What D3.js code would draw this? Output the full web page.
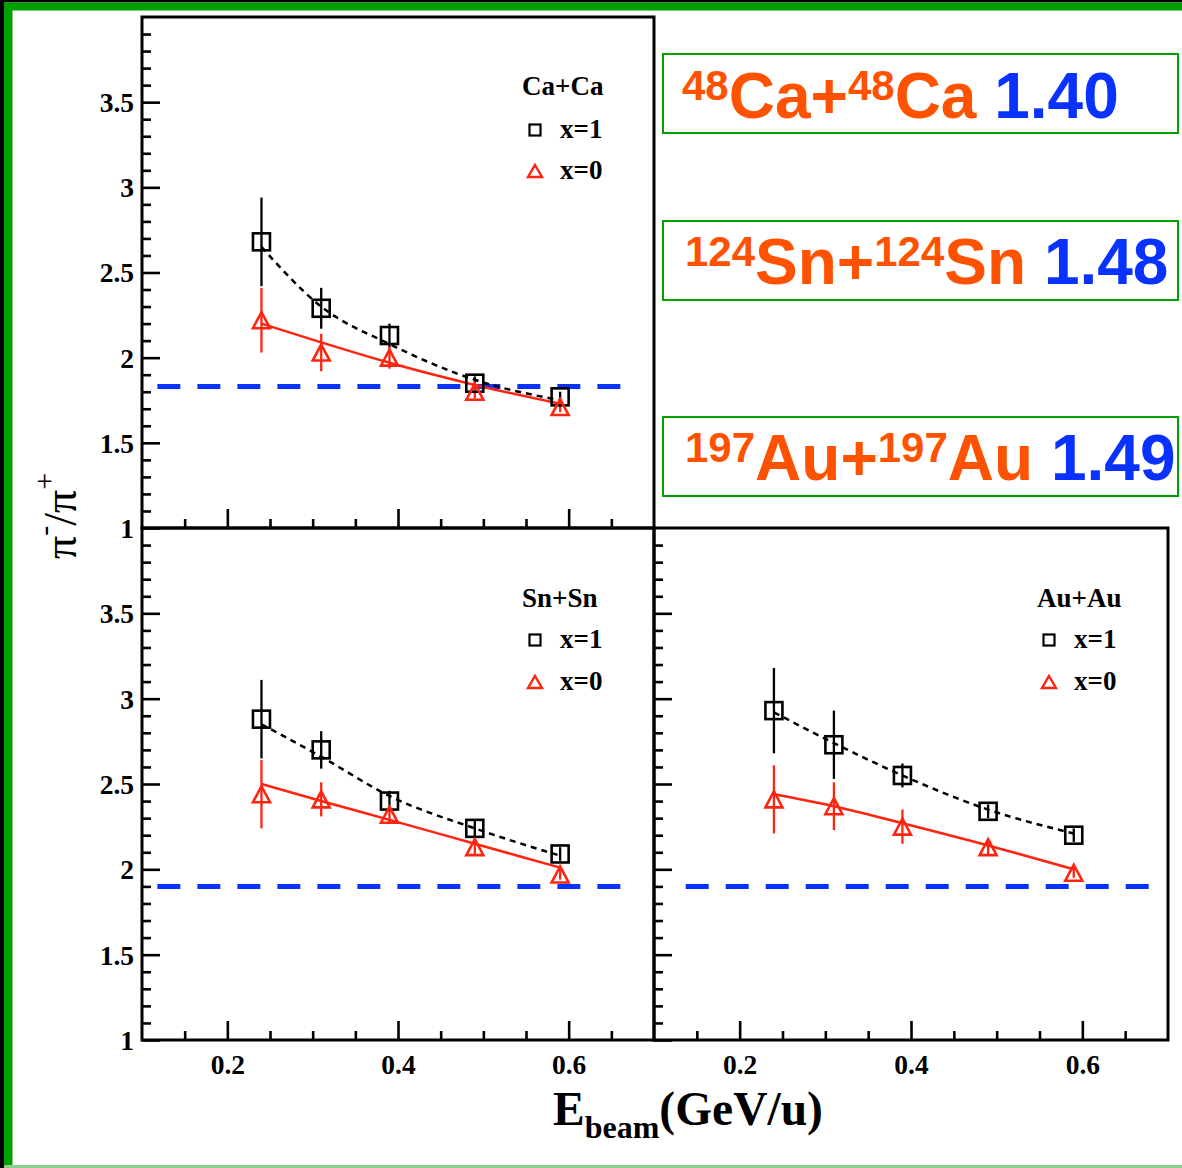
<!DOCTYPE html>
<html><head><meta charset="utf-8">
<script src="https://cdn.jsdelivr.net/npm/d3@7"></script>
<style>
html,body{margin:0;padding:0;background:#fff;}
svg{display:block;}
</style></head>
<body>
<svg id="chart" width="1182" height="1168"></svg>
<script>
// ---------- data ----------
const energies = [0.24, 0.31, 0.39, 0.49, 0.59];
const xTickValues = [0.2, 0.4, 0.6];
const xTickLabels = ["0.2", "0.4", "0.6"];
const yTickValues = [1, 1.5, 2, 2.5, 3, 3.5];
const yTickLabels = ["1", "1.5", "2", "2.5", "3", "3.5"];

const caX1 = [2.68, 2.29, 2.13, 1.85, 1.77];
const caX1Err = [0.26, 0.12, 0.07, 0.04, 0.03];
const caX0 = [2.22, 2.03, 2.00, 1.80, 1.71];
const caX0Err = [0.19, 0.11, 0.065, 0.04, 0.03];
const caFitX1 = [2.65, 2.30, 2.08, 1.87, 1.75];
const caFitX0 = [2.20, 2.09, 1.97, 1.84, 1.73];
const caRef = 1.83;

const snX1 = [2.88, 2.70, 2.40, 2.24, 2.09];
const snX1Err = [0.23, 0.11, 0.06, 0.05, 0.04];
const snX0 = [2.44, 2.41, 2.32, 2.13, 1.97];
const snX0Err = [0.20, 0.10, 0.05, 0.04, 0.03];
const snFitX1 = [2.85, 2.66, 2.43, 2.24, 2.08];
const snFitX0 = [2.50, 2.40, 2.29, 2.15, 2.01];
const snRef = 1.90;

const auX1 = [2.93, 2.73, 2.55, 2.34, 2.20];
const auX1Err = [0.25, 0.20, 0.07, 0.04, 0.04];
const auX0 = [2.41, 2.37, 2.25, 2.13, 1.98];
const auX0Err = [0.20, 0.14, 0.10, 0.04, 0.03];
const auFitX1 = [2.92, 2.74, 2.55, 2.35, 2.21];
const auFitX0 = [2.44, 2.37, 2.27, 2.14, 2.00];
const auRef = 1.90;

const systemNames = ["Ca+Ca", "Sn+Sn", "Au+Au"];
const legendLabels = ["x=1", "x=0"];
const boxMass = ["48", "124", "197"];
const boxElement = ["Ca", "Sn", "Au"];
const boxValues = ["1.40", "1.48", "1.49"];

// ---------- layout ----------
const svg = d3.select("#chart");
const RED = "#ff2410", BLUE = "#0a32ff", GREEN = "#00a000", ORANGE = "#ff5200";
const SERIF = "'Liberation Serif','Times New Roman',serif";
const SANS = "'Liberation Sans',Arial,sans-serif";
const TICKFS = 27.5, LEGFS = 27;

// outer frame
svg.append("rect").attr("x",0).attr("y",0).attr("width",1182).attr("height",1168).attr("fill","#fff");
svg.append("rect").attr("x",0).attr("y",0).attr("width",4).attr("height",1168).attr("fill","#000");
svg.append("rect").attr("x",0).attr("y",0).attr("width",1182).attr("height",2.5).attr("fill","#000");
svg.append("rect").attr("x",4).attr("y",2.5).attr("width",8.5).attr("height",1165.5).attr("fill",GREEN);
svg.append("rect").attr("x",4).attr("y",2.5).attr("width",1178).attr("height",8).attr("fill",GREEN);
svg.append("rect").attr("x",4).attr("y",1165).attr("width",1178).attr("height",3).attr("fill","#8fd08f");

const panels = [
  {x0:142, x1:654, y0:17,  y1:528,  xLabels:false, yLabels:true,  name:systemNames[0],
   s1:caX1, e1:caX1Err, s0:caX0, e0:caX0Err, f1:caFitX1, f0:caFitX0, ref:caRef, refRange:[0.118,0.67],
   leg:{tx:522, ty:95, mx:535, my1:130, my0:171}},
  {x0:142, x1:654, y0:528, y1:1040, xLabels:true, yLabels:true,  name:systemNames[1],
   s1:snX1, e1:snX1Err, s0:snX0, e0:snX0Err, f1:snFitX1, f0:snFitX0, ref:snRef, refRange:[0.118,0.67],
   leg:{tx:522, ty:607, mx:535, my1:640, my0:682}},
  {x0:654, x1:1168, y0:528, y1:1040, xLabels:true, yLabels:false, name:systemNames[2],
   s1:auX1, e1:auX1Err, s0:auX0, e0:auX0Err, f1:auFitX1, f0:auFitX0, ref:auRef, refRange:[0.137,0.685],
   leg:{tx:1037, ty:607, mx:1049, my1:640, my0:682}}
];

function triPath(w, h){
  return `M0,${-h/2}L${w/2},${h/2}L${-w/2},${h/2}Z`;
}

panels.forEach(p => {
  const x = d3.scaleLinear().domain([0.1, 0.7]).range([p.x0, p.x1]);
  const y = d3.scaleLinear().domain([1, 4]).range([p.y1, p.y0]);
  const g = svg.append("g");

  // y axis minor ticks
  const yMinor = d3.range(11, 40).map(v => v/10).filter(v => Math.abs(v*2 - Math.round(v*2)) > 1e-6);
  g.append("g").attr("transform", `translate(${p.x0},0)`)
    .call(d3.axisLeft(y).tickValues(yMinor).tickSize(-9).tickFormat(""))
    .call(s => { s.select(".domain").remove(); s.selectAll("line").attr("stroke","#000").attr("stroke-width",2.6); });
  // y axis major
  g.append("g").attr("transform", `translate(${p.x0},0)`)
    .call(d3.axisLeft(y).tickValues(yTickValues).tickSize(-18).tickPadding(8)
      .tickFormat((d,i) => p.yLabels ? yTickLabels[i] : ""))
    .call(s => {
      s.select(".domain").remove();
      s.selectAll("line").attr("stroke","#000").attr("stroke-width",2.6);
      s.selectAll("text").attr("font-family",SERIF).attr("font-weight","bold").attr("font-size",TICKFS).attr("fill","#000").attr("dy","0.34em");
    });
  // x axis minor
  const xMinor = d3.range(3, 14).map(v => v*0.05).filter(v => Math.abs(v*5 - Math.round(v*5)) > 1e-6);
  g.append("g").attr("transform", `translate(0,${p.y1})`)
    .call(d3.axisBottom(x).tickValues(xMinor).tickSize(-9).tickFormat(""))
    .call(s => { s.select(".domain").remove(); s.selectAll("line").attr("stroke","#000").attr("stroke-width",2.6); });
  g.append("g").attr("transform", `translate(0,${p.y1})`)
    .call(d3.axisBottom(x).tickValues(xTickValues).tickSize(-19).tickPadding(14)
      .tickFormat((d,i) => p.xLabels ? xTickLabels[i] : ""))
    .call(s => {
      s.select(".domain").remove();
      s.selectAll("line").attr("stroke","#000").attr("stroke-width",2.6);
      s.selectAll("text").attr("font-family",SERIF).attr("font-weight","bold").attr("font-size",TICKFS).attr("fill","#000");
    });

  // frame
  g.append("rect").attr("x",p.x0).attr("y",p.y0).attr("width",p.x1-p.x0).attr("height",p.y1-p.y0)
    .attr("fill","none").attr("stroke","#000").attr("stroke-width",3);

  // reference blue dashed line
  g.append("line").attr("x1",x(p.refRange[0])).attr("x2",x(p.refRange[1]))
    .attr("y1",y(p.ref)).attr("y2",y(p.ref))
    .attr("stroke",BLUE).attr("stroke-width",5).attr("stroke-dasharray","23,17");

  // fit lines
  const line = d3.line().x((d,i)=>x(energies[i])).y(d=>y(d)).curve(d3.curveMonotoneX);
  g.append("path").attr("d", line(p.f1)).attr("fill","none").attr("stroke","#000")
    .attr("stroke-width",2.5).attr("stroke-dasharray","6,5");
  g.append("path").attr("d", line(p.f0)).attr("fill","none").attr("stroke",RED).attr("stroke-width",2.5);

  // error bars
  g.selectAll(".e1").data(p.s1).join("line")
    .attr("x1",(d,i)=>x(energies[i])).attr("x2",(d,i)=>x(energies[i]))
    .attr("y1",(d,i)=>y(d+p.e1[i])).attr("y2",(d,i)=>y(d-p.e1[i]))
    .attr("stroke","#000").attr("stroke-width",2.3);
  g.selectAll(".e0").data(p.s0).join("line")
    .attr("x1",(d,i)=>x(energies[i])).attr("x2",(d,i)=>x(energies[i]))
    .attr("y1",(d,i)=>y(d+p.e0[i])).attr("y2",(d,i)=>y(d-p.e0[i]))
    .attr("stroke",RED).attr("stroke-width",2.3);

  // markers
  g.selectAll(".sq").data(p.s1).join("rect")
    .attr("x",(d,i)=>x(energies[i])-8.5).attr("y",d=>y(d)-8.5)
    .attr("width",17).attr("height",17)
    .attr("fill","none").attr("stroke","#000").attr("stroke-width",2.6);
  g.selectAll(".tr").data(p.s0).join("path")
    .attr("transform",(d,i)=>`translate(${x(energies[i])},${y(d)})`)
    .attr("d", triPath(17,16))
    .attr("fill","none").attr("stroke",RED).attr("stroke-width",2.6).attr("stroke-linejoin","miter");

  // legend
  const L = p.leg;
  g.append("text").attr("x",L.tx).attr("y",L.ty).text(p.name)
    .attr("font-family",SERIF).attr("font-weight","bold").attr("font-size",LEGFS).attr("fill","#000");
  g.append("rect").attr("x",L.mx-5.5).attr("y",L.my1-5.5).attr("width",11).attr("height",11)
    .attr("fill","none").attr("stroke","#000").attr("stroke-width",2.2);
  g.append("path").attr("transform",`translate(${L.mx},${L.my0})`).attr("d",triPath(14,12))
    .attr("fill","none").attr("stroke",RED).attr("stroke-width",2.4);
  g.append("text").attr("x",L.mx+25).attr("y",L.my1+8).text(legendLabels[0])
    .attr("font-family",SERIF).attr("font-weight","bold").attr("font-size",LEGFS).attr("fill","#000");
  g.append("text").attr("x",L.mx+25).attr("y",L.my0+8).text(legendLabels[1])
    .attr("font-family",SERIF).attr("font-weight","bold").attr("font-size",LEGFS).attr("fill","#000");
});

// axis titles
const xt = svg.append("text").attr("x",553).attr("y",1125)
  .attr("font-family",SERIF).attr("font-weight","bold").attr("font-size",47.5).attr("fill","#000");
xt.append("tspan").text("E");
xt.append("tspan").attr("font-size",32).attr("dy",13).text("beam");
xt.append("tspan").attr("dy",-13).text("(GeV/u)");

const yt = svg.append("text").attr("transform","translate(76,516) rotate(-90)")
  .attr("text-anchor","middle")
  .attr("font-family",SERIF).attr("font-size",46).attr("fill","#000");
yt.append("tspan").text("π");
yt.append("tspan").attr("font-size",30).attr("dy",-22).text("-");
yt.append("tspan").attr("dy",22).text("/π");
yt.append("tspan").attr("font-size",30).attr("dy",-22).text("+");

// right boxes
const boxes = [{y:54, base:118, tx:682}, {y:221, base:284, tx:685}, {y:417, base:480, tx:685}];
boxes.forEach((b,i) => {
  svg.append("rect").attr("x",663).attr("y",b.y).attr("width",515).attr("height",79)
    .attr("fill","#fff").attr("stroke",GREEN).attr("stroke-width",2);
  const t = svg.append("text").attr("x",b.tx).attr("y",b.base)
    .attr("font-family",SANS).attr("font-weight","bold").attr("font-size",64).attr("fill",ORANGE);
  t.append("tspan").attr("font-size",42).attr("dy",-18).text(boxMass[i]);
  t.append("tspan").attr("dy",18).text(boxElement[i] + "+");
  t.append("tspan").attr("font-size",42).attr("dy",-18).text(boxMass[i]);
  t.append("tspan").attr("dy",18).text(boxElement[i] + " ");
  t.append("tspan").attr("fill",BLUE).text(boxValues[i]);
});
</script>
</body></html>
